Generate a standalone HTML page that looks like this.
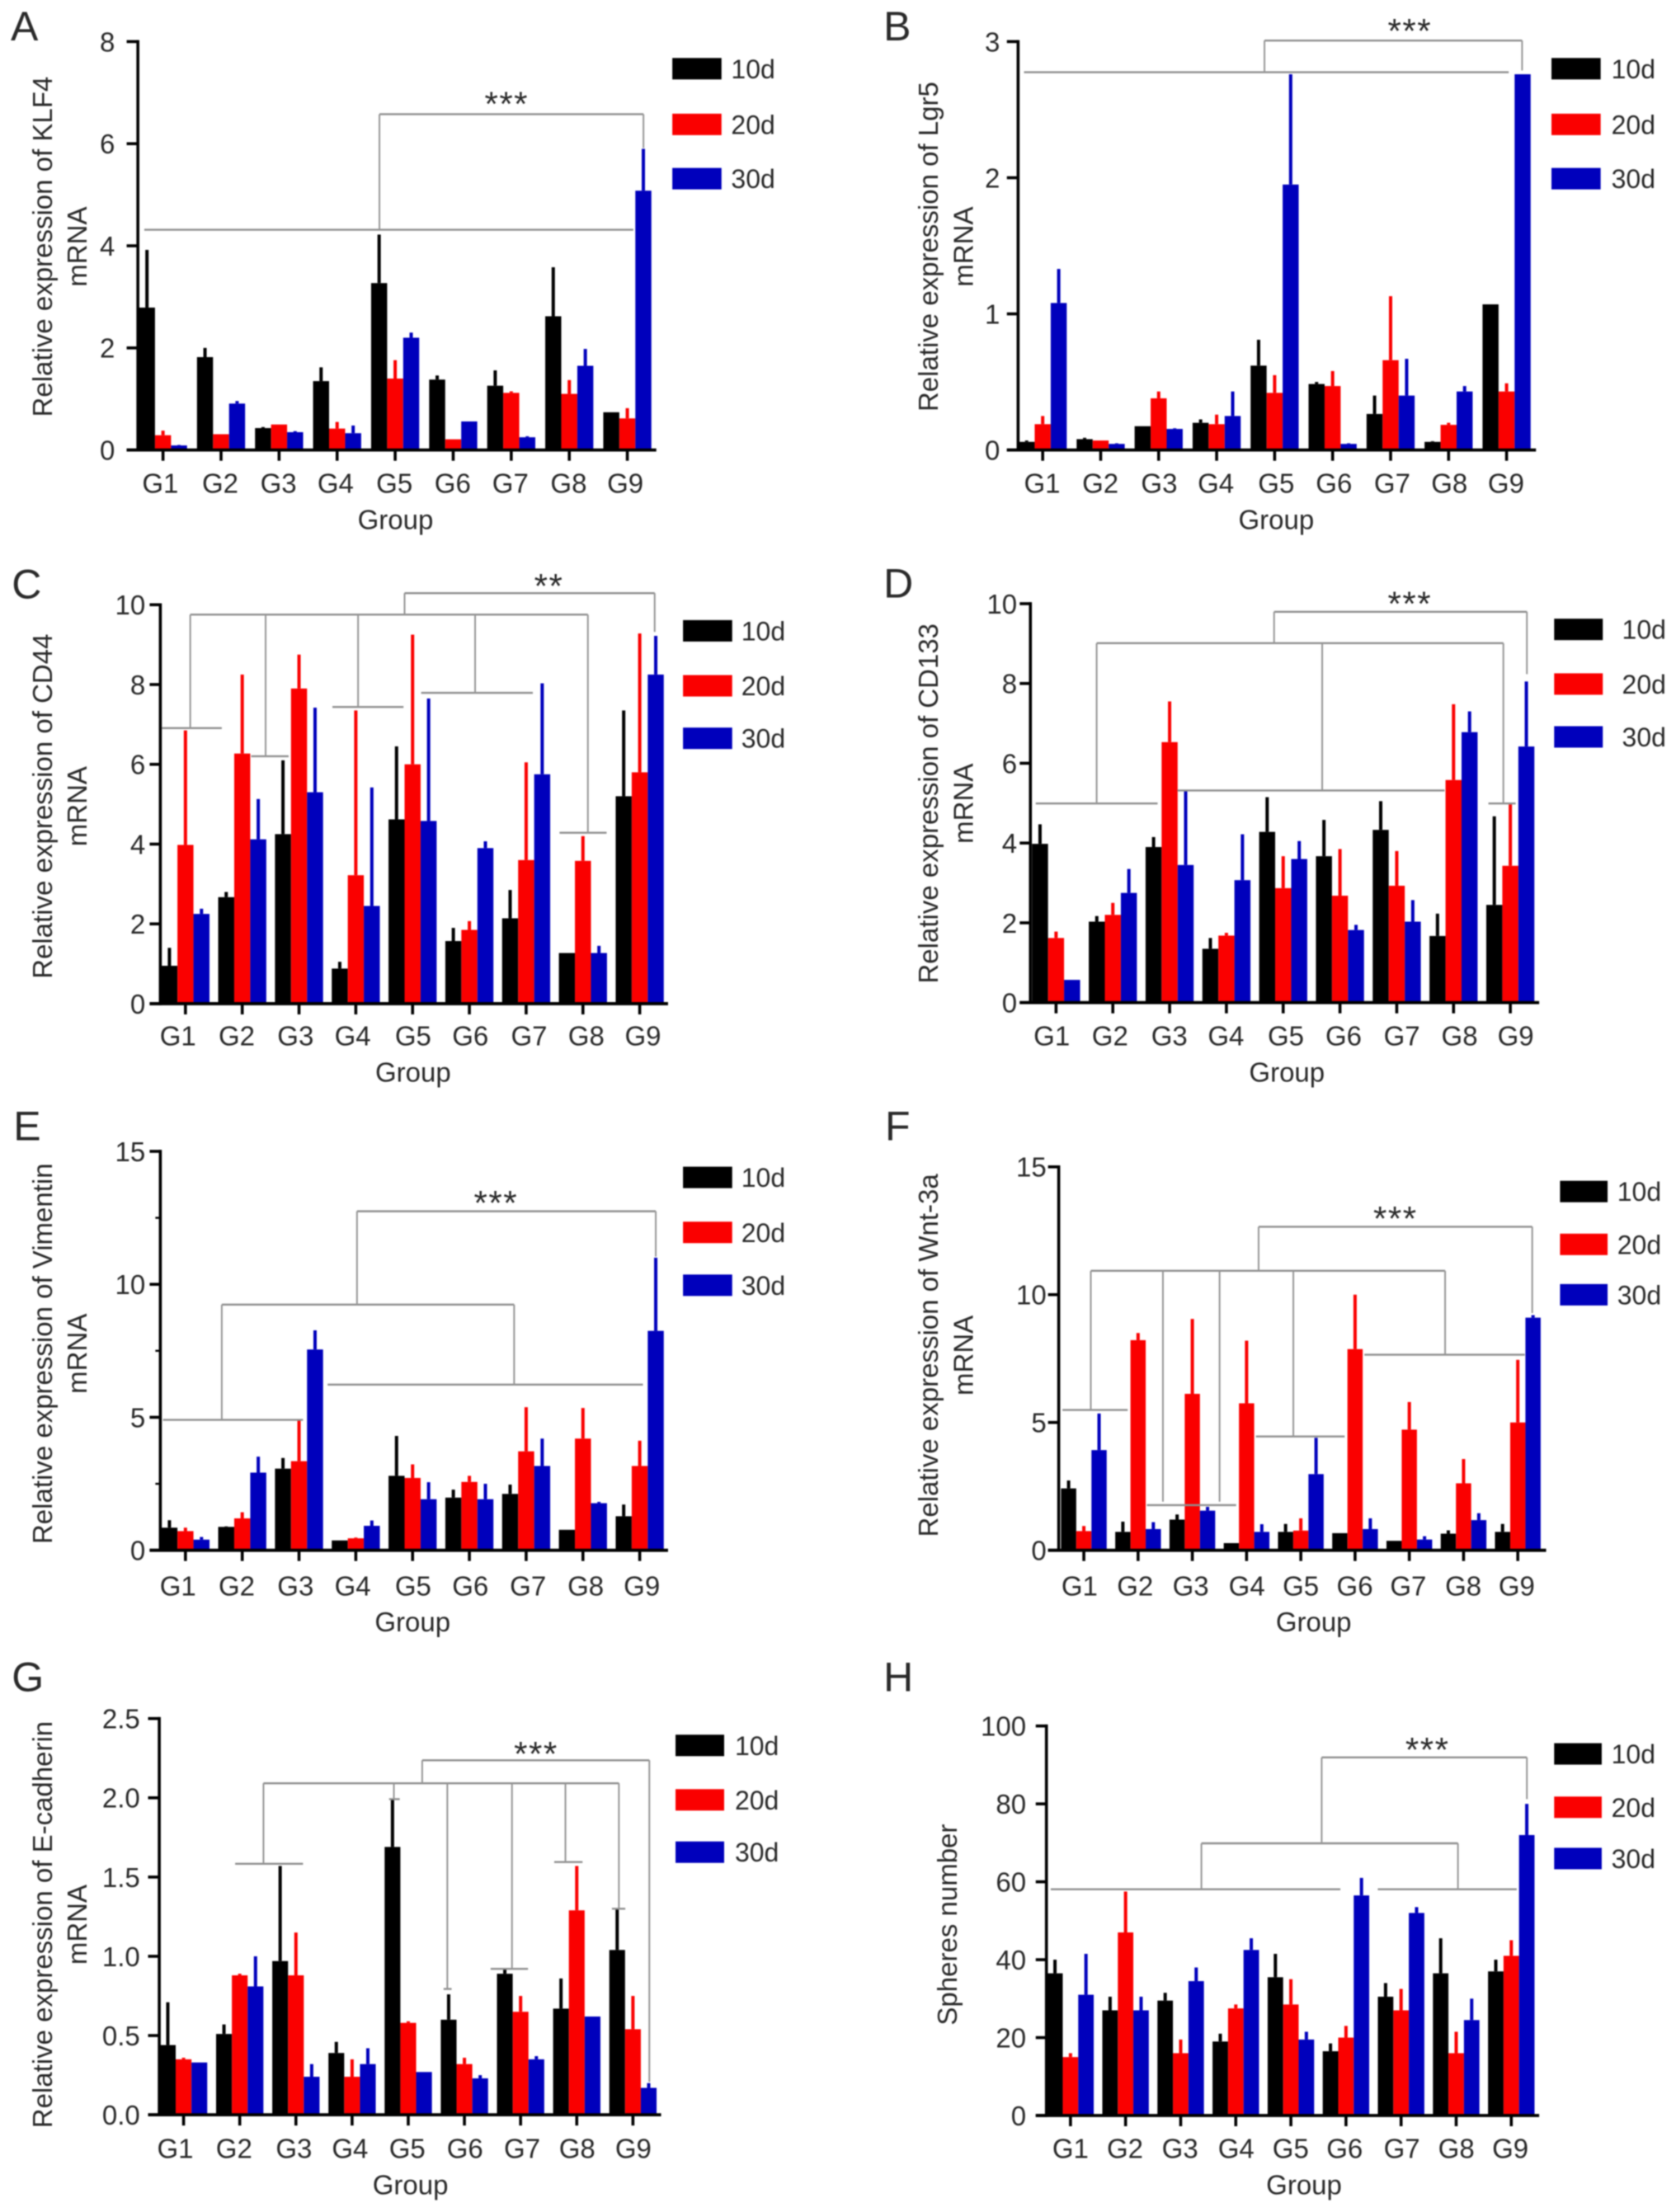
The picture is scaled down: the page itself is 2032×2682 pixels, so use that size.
<!DOCTYPE html>
<html lang="en">
<head>
<meta charset="utf-8">
<title>Relative mRNA expression and spheres number by group</title>
<style>
html,body{margin:0;padding:0;background:#fff;}
#figure{display:block;width:2032px;height:2682px;filter:blur(0.8px);}
text{font-family:"Liberation Sans",sans-serif;fill:#2a2a2a;}
</style>
</head>
<body>
<svg id="figure" xmlns="http://www.w3.org/2000/svg" width="2032" height="2682" viewBox="0 0 2032 2682"></svg>
<script>
const categories = ['G1','G2','G3','G4','G5','G6','G7','G8','G9'];
const seriesNames = ['10d','20d','30d'];
const seriesColors = ['#000000','#fa0000','#0000bc'];

const yTicksA = [0,2,4,6,8];
const klf4Mean10d = [2.79,1.82,.43,1.35,3.27,1.38,1.26,2.62,.74];
const klf4Upper10d = [3.92,2.0,.45,1.62,4.22,1.46,1.56,3.58,.74];
const klf4Mean20d = [.29,.31,.5,.42,1.4,.21,1.12,1.1,.62];
const klf4Upper20d = [.38,.31,.5,.55,1.76,.21,1.15,1.37,.82];
const klf4Mean30d = [.09,.91,.35,.33,2.2,.56,.25,1.65,5.08];
const klf4Upper30d = [.1,.96,.37,.48,2.3,.56,.27,1.98,5.9];

const yTicksB = [0,1,2,3];
const lgr5Mean10d = [.06,.08,.175,.2,.62,.485,.265,.06,1.07];
const lgr5Upper10d = [.07,.09,.175,.225,.81,.5,.4,.065,1.07];
const lgr5Mean20d = [.19,.07,.38,.19,.42,.47,.66,.185,.43];
const lgr5Upper20d = [.25,.07,.43,.26,.55,.58,1.13,.2,.49];
const lgr5Mean30d = [1.08,.045,.155,.25,1.95,.045,.4,.43,2.76];
const lgr5Upper30d = [1.33,.05,.16,.43,2.76,.05,.67,.47,2.76];

const yTicksC = [0,2,4,6,8,10];
const cd44Mean10d = [.95,2.67,4.25,.88,4.62,1.57,2.14,1.27,5.2];
const cd44Upper10d = [1.4,2.8,6.1,1.05,6.45,1.9,2.85,1.27,7.35];
const cd44Mean20d = [3.98,6.27,7.9,3.22,6.0,1.85,3.6,3.58,5.8];
const cd44Upper20d = [6.85,8.25,8.75,7.35,9.25,2.07,6.05,4.2,9.28];
const cd44Mean30d = [2.25,4.12,5.3,2.45,4.58,3.9,5.75,1.27,8.25];
const cd44Upper30d = [2.38,5.13,7.42,5.42,7.65,4.07,8.03,1.45,9.22];

const yTicksD = [0,2,4,6,8,10];
const cd133Mean10d = [3.98,2.03,3.9,1.35,4.28,3.67,4.33,1.67,2.45];
const cd133Upper10d = [4.47,2.17,4.15,1.62,5.15,4.58,5.05,2.23,4.67];
const cd133Mean20d = [1.62,2.2,6.53,1.68,2.87,2.68,2.93,5.58,3.43];
const cd133Upper20d = [1.78,2.5,7.55,1.75,3.67,3.85,3.8,7.48,4.97];
const cd133Mean30d = [.57,2.75,3.45,3.07,3.6,1.82,2.03,6.78,6.42];
const cd133Upper30d = [.57,3.35,5.3,4.22,4.05,1.95,2.57,7.3,8.05];

const yTicksE = [0,5,10,15];
const yMinorTicksE = [2.5,7.5,12.5];
const vimMean10d = [.85,.88,3.07,.37,2.8,1.98,2.12,.77,1.28];
const vimUpper10d = [1.13,.9,3.47,.37,4.3,2.28,2.47,.77,1.72];
const vimMean20d = [.72,1.2,3.35,.45,2.72,2.57,3.72,4.2,3.17];
const vimUpper20d = [.85,1.43,4.9,.48,3.23,2.8,5.38,5.35,4.12];
const vimMean30d = [.4,2.92,7.55,.92,1.92,1.92,3.17,1.77,8.25];
const vimUpper30d = [.5,3.52,8.27,1.12,2.56,2.5,4.2,1.82,11];

const yTicksF = [0,5,10,15];
const wntMean10d = [2.42,.72,1.2,.28,.72,.67,.37,.65,.72];
const wntUpper10d = [2.73,1.12,1.4,.28,1.03,.67,.37,.78,1.03];
const wntMean20d = [.75,8.22,6.12,5.75,.77,7.87,4.72,2.62,5.0];
const wntUpper20d = [.95,8.5,9.05,8.2,1.25,10,5.8,3.57,7.45];
const wntMean30d = [3.92,.83,1.55,.72,2.98,.83,.42,1.18,9.1];
const wntUpper30d = [5.35,1.1,1.7,1.02,4.4,1.25,.55,1.45,9.2];

const yTicksG = ['0.0','0.5','1.0','1.5','2.0','2.5'];
const ecadMean10d = [.44,.51,.97,.39,1.69,.6,.89,.67,1.04];
const ecadUpper10d = [.71,.57,1.57,.46,1.99,.76,.92,.86,1.3];
const ecadMean20d = [.35,.88,.88,.24,.58,.32,.65,1.29,.54];
const ecadUpper20d = [.36,.89,1.15,.35,.59,.36,.75,1.57,.75];
const ecadMean30d = [.33,.81,.24,.32,.27,.23,.35,.62,.17];
const ecadUpper30d = [.33,1.0,.32,.42,.27,.25,.37,.62,.2];

const yTicksH = [0,20,40,60,80,100];
const sphMean10d = [36.5,27,29.5,19,35.5,16.5,30.5,36.5,37];
const sphUpper10d = [40,30.5,31.5,21,41.5,18.5,34,45.5,40];
const sphMean20d = [15,47,16,27.5,28.5,20,27,16,41];
const sphUpper20d = [16,57.5,19.5,28.5,35,23,32.5,21.5,45];
const sphMean30d = [31,27,34.5,42.5,19.5,56.5,52,24.5,72];
const sphUpper30d = [41.5,30.5,38,45.5,21.5,61,53.5,30,80];

/* Layout below is expressed in per-quadrant reference units (1568 x 1568 per tile). */
const panels = [
 {id:'a',letter:'A',col:0,row:0,ticks:yTicksA,means:[klf4Mean10d,klf4Mean20d,klf4Mean30d],uppers:[klf4Upper10d,klf4Upper20d,klf4Upper30d],
  title:['Relative expression of KLF4','mRNA'],titleX:[80,145],titleY:700,axisX:258,y0:1277,yTop:118,xStart:237,xEnd:1228,tick0:305,tickStep:108.6,barW:30,
  labelX:[300,412,521,628,738,847,955,1064,1170],labelY:1370,tickRight:215,groupX:740,groupY:1480,legendX:1258,legendW:92,legendText:1368,legendY:[195,353,507],
  letterX:20,letterB:115,stars:'***',starX:948,starY:275,
  hlines:[[324,710,1204],[652,270,1185]],drops:[[710,324,650],[1204,324,420]]},
 {id:'b',letter:'B',col:1,row:0,ticks:yTicksB,means:[lgr5Mean10d,lgr5Mean20d,lgr5Mean30d],uppers:[lgr5Upper10d,lgr5Upper20d,lgr5Upper30d],
  title:['Relative expression of Lgr5','mRNA'],titleX:[170,235],titleY:700,axisX:337,y0:1277,yTop:118,xStart:316,xEnd:1306,tick0:383,tickStep:108.5,barW:30,
  labelX:[382,491,601,707,820,928,1037,1144,1250],labelY:1370,tickRight:303,groupX:820,groupY:1480,legendX:1335,legendW:92,legendText:1447,legendY:[195,353,507],
  letterX:85,letterB:115,stars:'***',starX:1070,starY:68,
  hlines:[[115,798,1280],[205,348,1255]],drops:[[798,115,205],[1280,115,200]]},
 {id:'c',letter:'C',col:0,row:1,ticks:yTicksC,means:[cd44Mean10d,cd44Mean20d,cd44Mean30d],uppers:[cd44Upper10d,cd44Upper20d,cd44Upper30d],
  title:['Relative expression of CD44','mRNA'],titleX:[80,145],titleY:720,axisX:300,y0:1280,yTop:148,xStart:280,xEnd:1250,tick0:347,tickStep:106.25,barW:30,
  labelX:[333,443,553,660,773,880,990,1097,1203],labelY:1370,tickRight:272,groupX:773,groupY:1480,legendX:1278,legendW:92,legendText:1387,legendY:[222,378,527],
  letterX:22,letterB:130,stars:'**',starX:1027,starY:75,
  hlines:[[115,757,1225],[176,356,1100],[498,303,415],[578,470,540],[438,622,755],[398,788,997],[795,1047,1135]],
  drops:[[757,115,176],[1225,115,225],[356,176,498],[497,176,578],[670,176,438],[889,176,398],[1100,176,795]]},
 {id:'d',letter:'D',col:1,row:1,ticks:yTicksD,means:[cd133Mean10d,cd133Mean20d,cd133Mean30d],uppers:[cd133Upper10d,cd133Upper20d,cd133Upper30d],
  title:['Relative expression of CD133','mRNA'],titleX:[170,235],titleY:712,axisX:360,y0:1277,yTop:145,xStart:340,xEnd:1312,tick0:408,tickStep:106.25,barW:30,
  labelX:[400,509,620,726,838,946,1055,1163,1268],labelY:1370,tickRight:335,groupX:840,groupY:1480,legendX:1340,legendW:91,legendText:1467,legendY:[218,373,523],
  letterX:85,letterB:128,stars:'***',starX:1070,starY:125,
  hlines:[[168,816,1289],[257,484,1245],[712,370,598],[675,635,1135],[712,1217,1268]],
  drops:[[816,168,257],[1289,168,345],[484,257,712],[906,257,675],[1245,257,712]]},
 {id:'e',letter:'E',col:0,row:2,ticks:yTicksE,minor:yMinorTicksE,means:[vimMean10d,vimMean20d,vimMean30d],uppers:[vimUpper10d,vimUpper20d,vimUpper30d],
  title:['Relative expression of Vimentin','mRNA'],titleX:[80,145],titleY:705,axisX:300,y0:1263,yTop:131,xStart:280,xEnd:1250,tick0:347,tickStep:106.25,barW:30,
  labelX:[333,443,553,660,773,880,988,1096,1201],labelY:1363,tickRight:272,groupX:772,groupY:1472,legendX:1278,legendW:92,legendText:1387,legendY:[205,361,511],
  letterX:25,letterB:100,stars:'***',starX:928,starY:258,
  hlines:[[301,668,1227],[566,415,962],[893,305,567],[793,613,1203]],
  drops:[[668,301,566],[1227,301,430],[415,566,893],[962,566,793]]},
 {id:'f',letter:'F',col:1,row:2,ticks:yTicksF,means:[wntMean10d,wntMean20d,wntMean30d],uppers:[wntUpper10d,wntUpper20d,wntUpper30d],
  title:['Relative expression of Wnt-3a','mRNA'],titleX:[170,235],titleY:710,axisX:413,y0:1263,yTop:175,xStart:393,xEnd:1325,tick0:460,tickStep:101.5,barW:28.5,
  labelX:[452,556,660,765,866,967,1067,1170,1270],labelY:1363,tickRight:390,groupX:890,groupY:1472,legendX:1351,legendW:89,legendText:1458,legendY:[245,395,538],
  letterX:88,letterB:100,stars:'***',starX:1043,starY:302,
  hlines:[[345,787,1299],[470,473,1136],[865,420,542],[1135,578,745],[940,782,948],[708,985,1285]],
  drops:[[787,345,470],[1299,345,590],[473,470,865],[608,470,1125],[714,470,1125],[852,470,940],[1136,470,708]]},
 {id:'g',letter:'G',col:0,row:3,ticks:yTicksG,means:[ecadMean10d,ecadMean20d,ecadMean30d],uppers:[ecadUpper10d,ecadUpper20d,ecadUpper30d],
  title:['Relative expression of E-cadherin','mRNA'],titleX:[80,145],titleY:755,axisX:298,y0:1293,yTop:172,xStart:277,xEnd:1237,tick0:343.5,tickStep:105.1,barW:29.5,
  labelX:[328,438,550,655,762,870,977,1080,1185],labelY:1387,tickRight:262,groupX:768,groupY:1497,legendX:1264,legendW:91,legendText:1375,legendY:[248,402,550],
  letterX:22,letterB:95,stars:'***',starX:1003,starY:252,
  hlines:[[290,790,1215],[355,493,1158],[583,440,567],[880,918,988],[578,1037,1090],[937,830,845],[710,1145,1170],[400,728,748]],
  drops:[[790,290,355],[1215,290,1200],[493,355,582],[737,355,400],[837,355,937],[958,355,880],[1058,355,578],[1158,355,710]]},
 {id:'h',letter:'H',col:1,row:3,ticks:yTicksH,means:[sphMean10d,sphMean20d,sphMean30d],uppers:[sphUpper10d,sphUpper20d,sphUpper30d],
  title:['Spheres number'],titleX:[205],titleY:755,axisX:390,y0:1295,yTop:193,xStart:370,xEnd:1312,tick0:435,tickStep:103.1,barW:29,
  labelX:[435,537,640,745,847,948,1055,1157,1258],labelY:1387,tickRight:352,groupX:872,groupY:1497,legendX:1340,legendW:89,legendText:1447,legendY:[272,423,568],
  letterX:85,letterB:95,stars:'***',starX:1103,starY:240,
  hlines:[[282,905,1289],[525,680,1160],[655,398,940],[655,1010,1270]],
  drops:[[905,282,522],[1289,282,400],[680,525,655],[1160,525,655]]}
];

const NS = 'http://www.w3.org/2000/svg';
const root = document.getElementById('figure');
const rowTops = [0,670,1340,2010];
const rowHeights = [670,670,670,672];
const UNIT = 1568;

function make(tag, attrs, parent){
  const el = document.createElementNS(NS, tag);
  for (const k in attrs) el.setAttribute(k, attrs[k]);
  parent.appendChild(el);
  return el;
}
function px(p, u){ return p.col*1016 + u*1016/UNIT; }
function py(p, u){ return rowTops[p.row] + u*rowHeights[p.row]/UNIT; }
function yScale(p, v){
  const max = Number(p.ticks[p.ticks.length-1]);
  return py(p, p.y0 + (p.yTop - p.y0)*(Number(v)/max));
}
function xBand(p, i){ return px(p, p.tick0 + p.tickStep*i); }

const FS_TICK = 33, FS_TITLE = 33, FS_LEGEND = 32, BASE = 0.36;

panels.forEach(function(p){
  const g = make('g', {}, root);
  
  

  const letter = make('text', {x:px(p,p.letterX), y:py(p,p.letterB), 'font-size':50}, g);
  letter.textContent = p.letter;
  
  

  /* bars and error bars */
  const bw = p.barW*1016/UNIT;
  categories.forEach(function(cat, i){
    const cx = xBand(p, i);
    seriesNames.forEach(function(name, s){
      const left = cx + (s-1.5)*bw;
      const top = yScale(p, p.means[s][i]);
      const upper = yScale(p, p.uppers[s][i]);
      const err = make('rect', {x:left+bw/2-2, y:upper, width:4, height:Math.max(0,top-upper), fill:seriesColors[s]}, g);
      
      
      const bar = make('rect', {x:left, y:top, width:bw, height:yScale(p,0)-top, fill:seriesColors[s]}, g);
      
      
    });
  });

  /* significance brackets */
  p.hlines.forEach(function(h){
    const line = make('line', {x1:px(p,h[1]), x2:px(p,h[2]), y1:py(p,h[0]), y2:py(p,h[0]), stroke:'#8f8f8f', 'stroke-width':2.4}, g);
    
    
  });
  p.drops.forEach(function(d){
    const line = make('line', {x1:px(p,d[0]), x2:px(p,d[0]), y1:py(p,d[1]), y2:py(p,d[2]), stroke:'#969696', 'stroke-width':2}, g);
    
    
  });
  const stars = make('text', {x:px(p,p.starX), y:py(p,p.starY)+23, 'font-size':42, 'text-anchor':'middle', 'letter-spacing':1.5}, g);
  stars.textContent = p.stars;
  
  

  /* axes */
  const axisPx = px(p,p.axisX), zeroPy = yScale(p,0), topPy = yScale(p, p.ticks[p.ticks.length-1]);
  const yAxis = make('line', {x1:axisPx, x2:axisPx, y1:topPy-1.8, y2:zeroPy+1.8, stroke:'#000', 'stroke-width':3.6}, g);
  
  
  const xAxis = make('line', {x1:px(p,p.xStart), x2:px(p,p.xEnd), y1:zeroPy, y2:zeroPy, stroke:'#000', 'stroke-width':3.8}, g);
  
  

  p.ticks.forEach(function(t){
    const ty = yScale(p,t);
    const mark = make('line', {x1:px(p,p.xStart), x2:axisPx, y1:ty, y2:ty, stroke:'#000', 'stroke-width':3.6}, g);
    
    
    const label = make('text', {x:px(p,p.tickRight), y:ty+BASE*FS_TICK, 'font-size':FS_TICK, 'text-anchor':'end'}, g);
    label.textContent = String(t);
    
    
  });
  (p.minor || []).forEach(function(t){
    const ty = yScale(p,t);
    const mark = make('line', {x1:axisPx-6, x2:axisPx, y1:ty, y2:ty, stroke:'#000', 'stroke-width':2.4}, g);
    
    
  });
  categories.forEach(function(cat, i){
    const tx = xBand(p,i);
    const mark = make('line', {x1:tx, x2:tx, y1:zeroPy, y2:zeroPy+13, stroke:'#000', 'stroke-width':3.6}, g);
    
    
    const label = make('text', {x:px(p,p.labelX[i]), y:py(p,p.labelY)+BASE*FS_TICK, 'font-size':FS_TICK, 'text-anchor':'middle'}, g);
    label.textContent = cat;
    
    
  });

  /* axis titles */
  p.title.forEach(function(line, i){
    const bx = px(p,p.titleX[i]) + 11, cy = py(p,p.titleY);
    const t = make('text', {x:bx, y:cy, 'font-size':FS_TITLE, 'text-anchor':'middle', transform:'rotate(-90 '+bx+' '+cy+')'}, g);
    t.textContent = line;
    
    
  });
  const xt = make('text', {x:px(p,p.groupX), y:py(p,p.groupY)+9, 'font-size':FS_TITLE, 'text-anchor':'middle'}, g);
  xt.textContent = 'Group';
  
  

  /* legend */
  seriesNames.forEach(function(name, s){
    const cy = py(p,p.legendY[s]);
    const sw = make('rect', {x:px(p,p.legendX), y:cy-13, width:p.legendW*1016/UNIT, height:26, fill:seriesColors[s]}, g);
    
    
    const lt = make('text', {x:px(p,p.legendText), y:cy+BASE*FS_LEGEND, 'font-size':FS_LEGEND}, g);
    lt.textContent = name;
    
    
  });
});
</script>
</body>
</html>
